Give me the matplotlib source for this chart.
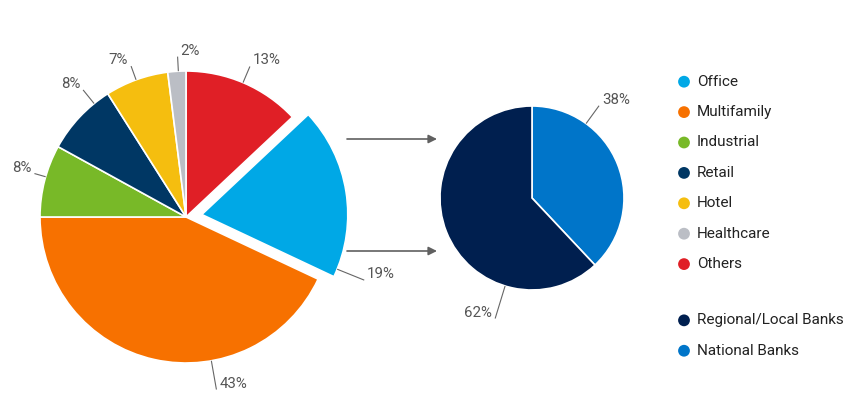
import matplotlib
matplotlib.use('Agg')
import matplotlib.pyplot as plt
import numpy as np

# ---------------- data ----------------
sectors = ['Others', 'Office', 'Multifamily', 'Industrial', 'Retail', 'Hotel', 'Healthcare']
sector_share = [13, 19, 43, 8, 8, 7, 2]
sector_colors = ['#e01f26', '#00a8e6', '#f77100', '#78b928', '#003764', '#f5be0f', '#bbbec5']
sector_legend_order = ['Office', 'Multifamily', 'Industrial', 'Retail', 'Hotel', 'Healthcare', 'Others']

lenders = ['National Banks', 'Regional/Local Banks']
lender_share = [38, 62]
lender_colors = ['#0075c9', '#001f4f']
lender_legend_order = ['Regional/Local Banks', 'National Banks']

# ---------------- layout / style ----------------
plt.rcParams['font.family'] = ['Roboto', 'DejaVu Sans']
W, H = 862, 408
fig = plt.figure(figsize=(W / 100, H / 100), dpi=100)
ax = fig.add_axes([0, 0, 1, 1])


def Y(py):
    return H - py


label_color = '#555555'
text_color = '#222222'

# left pie
c1, r1 = (186, Y(217)), 146
explode1 = [0, 16, 0, 0, 0, 0, 0]   # offset in pixels
lab_ang1 = [67, -22, -80, 164, 129, 110, 93]
lab_len1 = [1.12, 1.2, 1.2, 1.08, 1.12, 1.1, 1.1]

# right pie
c2, r2 = (532, Y(198)), 92
lab_ang2 = [54, -107]
lab_len2 = [1.24, 1.37]

w1, _ = ax.pie(sector_share, colors=sector_colors, startangle=90, counterclock=False,
               center=c1, radius=r1, explode=explode1, frame=True,
               wedgeprops=dict(edgecolor='white', linewidth=1.2))
w2, _ = ax.pie(lender_share, colors=lender_colors, startangle=90, counterclock=False,
               center=c2, radius=r2, frame=True,
               wedgeprops=dict(edgecolor='white', linewidth=1.2))


def label_wedges(wedges, values, angles, lengths):
    for w, v, a, L in zip(wedges, values, angles, lengths):
        cx, cy = w.center
        r = w.r
        t = np.deg2rad(a)
        x0, y0 = cx + r * np.cos(t), cy + r * np.sin(t)
        x1, y1 = cx + L * r * np.cos(t), cy + L * r * np.sin(t)
        ax.plot([x0, x1], [y0, y1], color='#666666', lw=0.8, solid_capstyle='butt')
        right = np.cos(t) > -0.1
        ax.text(x1 + (3 if right else -3), y1 + 6, f'{v}%',
                ha='left' if right else 'right', va='center',
                fontsize=10.8, color=label_color)


label_wedges(w1, sector_share, lab_ang1, lab_len1)
label_wedges(w2, lender_share, lab_ang2, lab_len2)

# arrows
for ay in (139, 251):
    ax.annotate('', xy=(437, Y(ay)), xytext=(347, Y(ay)),
                arrowprops=dict(arrowstyle='-|>,head_length=0.5,head_width=0.25',
                                color='#606060', lw=1.2, shrinkA=0, shrinkB=0))

# legend
leg_items = [(n, sector_colors[sectors.index(n)]) for n in sector_legend_order] + \
            [(n, lender_colors[lenders.index(n)]) for n in lender_legend_order]
rows = list(range(7)) + [7.85, 8.85]
for (name, col), rw in zip(leg_items, rows):
    yy = Y(81.7 + rw * 30.4)
    ax.scatter([684], [yy], s=72, color=col, edgecolors='none')
    ax.text(697, yy, name, ha='left', va='center', fontsize=11, color=text_color)

ax.set_xlim(0, W)
ax.set_ylim(0, H)
ax.set_aspect('equal')
ax.axis('off')

fig.savefig('out.png', dpi=100, facecolor='white')
